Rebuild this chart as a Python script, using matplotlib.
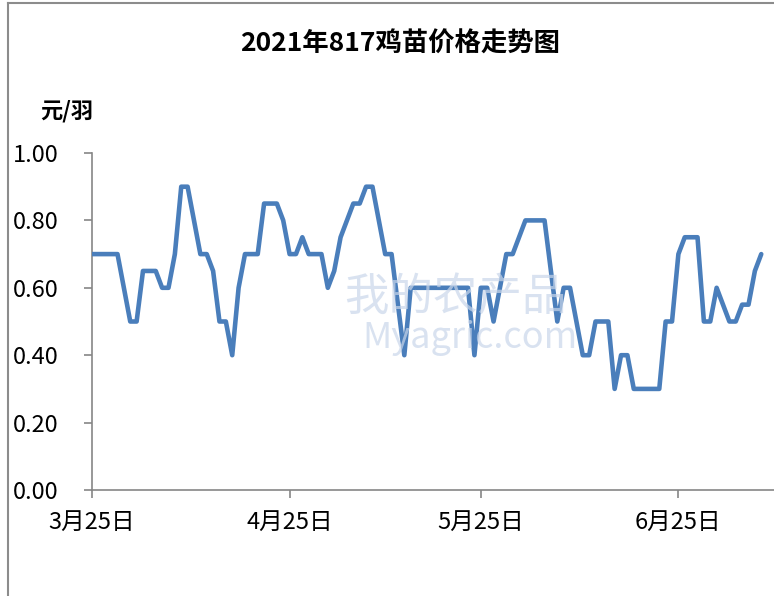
import numpy as np
import pandas as pd
import matplotlib
matplotlib.use('Agg')
import matplotlib.pyplot as plt
from matplotlib.lines import Line2D

plt.rcParams['font.family'] = ['Noto Sans CJK SC', 'DejaVu Sans']

# price points (yuan per chick)
dates = ['2021-03-25', '2021-03-29', '2021-03-31', '2021-04-01', '2021-04-02',
         '2021-04-04', '2021-04-05', '2021-04-06', '2021-04-07', '2021-04-08',
         '2021-04-09', '2021-04-11', '2021-04-12', '2021-04-13', '2021-04-14',
         '2021-04-15', '2021-04-16', '2021-04-17', '2021-04-18', '2021-04-20',
         '2021-04-21', '2021-04-23', '2021-04-24', '2021-04-25', '2021-04-26',
         '2021-04-27', '2021-04-28', '2021-04-30', '2021-05-01', '2021-05-02',
         '2021-05-03', '2021-05-05', '2021-05-06', '2021-05-07', '2021-05-08',
         '2021-05-10', '2021-05-11', '2021-05-13', '2021-05-14', '2021-05-23',
         '2021-05-24', '2021-05-25', '2021-05-26', '2021-05-27', '2021-05-29',
         '2021-05-30', '2021-06-01', '2021-06-04', '2021-06-06', '2021-06-07',
         '2021-06-08', '2021-06-10', '2021-06-11', '2021-06-12', '2021-06-14',
         '2021-06-15', '2021-06-16', '2021-06-17', '2021-06-18', '2021-06-22',
         '2021-06-23', '2021-06-24', '2021-06-25', '2021-06-26', '2021-06-28',
         '2021-06-29', '2021-06-30', '2021-07-01', '2021-07-03', '2021-07-04',
         '2021-07-05', '2021-07-06', '2021-07-07', '2021-07-08']
prices = [0.70, 0.70, 0.50, 0.50, 0.65,
          0.65, 0.60, 0.60, 0.70, 0.90,
          0.90, 0.70, 0.70, 0.65, 0.50,
          0.50, 0.40, 0.60, 0.70, 0.70,
          0.85, 0.85, 0.80, 0.70, 0.70,
          0.75, 0.70, 0.70, 0.60, 0.65,
          0.75, 0.85, 0.85, 0.90, 0.90,
          0.70, 0.70, 0.40, 0.60, 0.60,
          0.40, 0.60, 0.60, 0.50, 0.70,
          0.70, 0.80, 0.80, 0.50, 0.60,
          0.60, 0.40, 0.40, 0.50, 0.50,
          0.30, 0.40, 0.40, 0.30, 0.30,
          0.50, 0.50, 0.70, 0.75, 0.75,
          0.50, 0.50, 0.60, 0.50, 0.50,
          0.55, 0.55, 0.65, 0.70]

x = pd.to_datetime(dates)
y = np.array(prices)

xtick_dates = pd.to_datetime(['2021-03-25', '2021-04-25', '2021-05-25', '2021-06-25'])
xtick_labels = ['3月25日', '4月25日', '5月25日', '6月25日']
yticks = [0.0, 0.2, 0.4, 0.6, 0.8, 1.0]

fig = plt.figure(figsize=(7.74, 5.96), dpi=100)
ax = fig.add_axes([92/774, 1-490/596, 1-92/774, (490-153)/596])

ax.plot(x, y, color='#4a7ebb', lw=3.3, solid_joinstyle='round', solid_capstyle='round', zorder=3)

ax.set_xlim(pd.Timestamp('2021-03-25'), pd.Timestamp('2021-07-10'))
ax.set_ylim(0, 1.0)
ax.set_xticks(xtick_dates)
ax.set_xticklabels(xtick_labels, fontsize=17)
ax.set_yticks(yticks)
ax.set_yticklabels(['%.2f' % v for v in yticks], fontsize=17)

grey = '#868686'
for s in ['top', 'right']:
    ax.spines[s].set_visible(False)
for s in ['left', 'bottom']:
    ax.spines[s].set_color(grey)
    ax.spines[s].set_linewidth(1.2)
ax.tick_params(axis='both', colors=grey, labelcolor='black', length=6, width=1.2)
ax.tick_params(axis='x', pad=9)
ax.tick_params(axis='y', pad=18)

# faint watermark
fig.text(455/774, 1-297/596, '我的农产品', fontsize=32, color='#c9d6ea', alpha=0.7,
         ha='center', va='center', zorder=0)
fig.text(470/774, 1-338/596, 'Myagric.com', fontsize=26, color='#c9d6ea', alpha=0.7,
         ha='center', va='center', zorder=0)

fig.text(400/774, 1-44/596, '2021年817鸡苗价格走势图', fontsize=19, fontweight='bold',
         ha='center', va='center')
fig.text(40/774, 1-111/596, '元/羽', fontsize=16, fontweight='bold', ha='left', va='center')

# outer chart border (cropped on right and bottom)
fig.add_artist(Line2D([8/774, 8/774], [0, 1-3/596], color='#8c8c8c', lw=1.5))
fig.add_artist(Line2D([8/774, 1], [1-3/596, 1-3/596], color='#8c8c8c', lw=1.5))

fig.savefig('out.png', dpi=100)
